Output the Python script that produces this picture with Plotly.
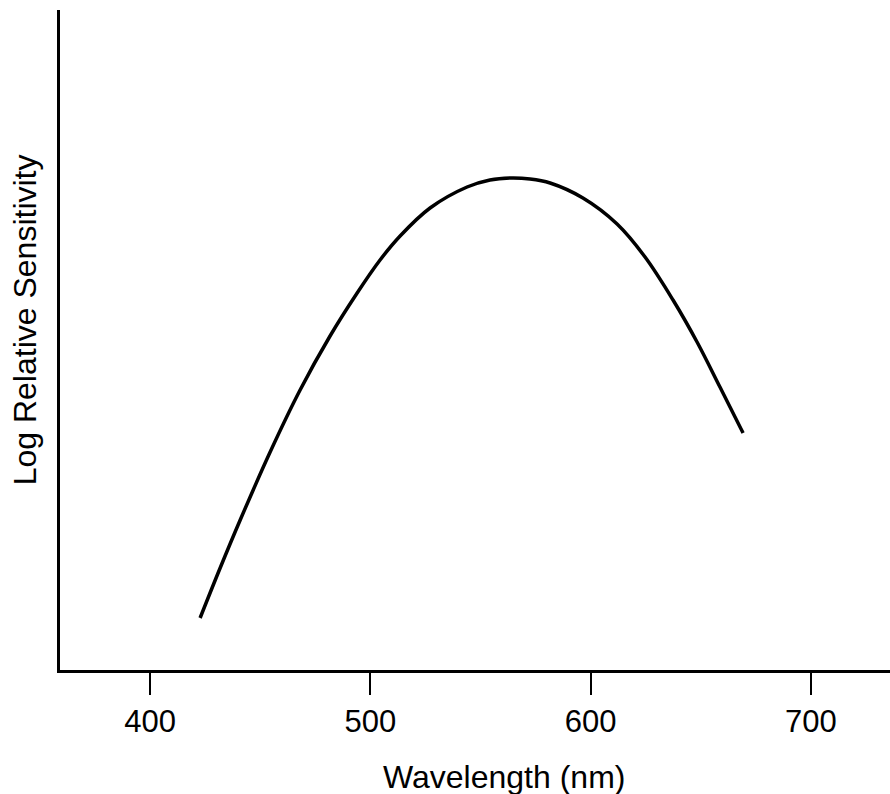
import plotly.graph_objects as go

# Spectral sensitivity curve (wavelength in nm, log relative sensitivity, peak = 0)
wavelength_nm = [422.7, 431.8, 440.9, 454.5, 468.1, 481.7, 494.0, 504.4, 513.5, 527.1, 543.9,
                 554.3, 563.4, 572.5, 581.6, 596.5, 612.0, 624.7, 637.4, 648.3, 658.7, 669.2]
log_sensitivity = [-4.40, -3.90, -3.42, -2.74, -2.12, -1.58, -1.15, -0.82, -0.58, -0.30, -0.09,
                   -0.02, 0.00, -0.01, -0.05, -0.20, -0.46, -0.79, -1.22, -1.64, -2.09, -2.55]

x_ticks = [400, 500, 600, 700]
x_tick_text = ["400", "500", "600", "700"]

FONT = "Liberation Sans, Arial, Helvetica, sans-serif"

fig = go.Figure()
fig.add_trace(go.Scatter(
    x=wavelength_nm,
    y=log_sensitivity,
    mode="lines",
    line=dict(color="black", width=3.5, shape="spline", smoothing=1.0),
    hoverinfo="skip",
    showlegend=False,
))

fig.update_layout(
    width=890,
    height=794,
    margin=dict(l=60, r=0, t=10, b=124),
    paper_bgcolor="white",
    plot_bgcolor="white",
    font=dict(family=FONT, color="black", size=31),
    xaxis=dict(
        range=[359.1, 735.9],
        showgrid=False,
        zeroline=False,
        showline=True,
        linecolor="black",
        linewidth=3,
        ticks="outside",
        ticklen=22,
        tickwidth=2,
        tickcolor="black",
        tickvals=x_ticks,
        ticktext=x_tick_text,
        tickfont=dict(family=FONT, size=31, color="black"),
    ),
    yaxis=dict(
        range=[-4.92, 1.68],
        showgrid=False,
        zeroline=False,
        showline=True,
        linecolor="black",
        linewidth=3,
        showticklabels=False,
        ticks="",
    ),
    annotations=[
        dict(
            text="Wavelength (nm)",
            xref="paper", yref="paper",
            x=0.5355, y=-0.162,
            xanchor="center", yanchor="middle",
            showarrow=False,
            font=dict(family=FONT, size=32, color="black"),
        ),
        dict(
            text="Log Relative Sensitivity",
            xref="paper", yref="paper",
            x=-0.042, y=0.530,
            xanchor="center", yanchor="middle",
            textangle=-90,
            showarrow=False,
            font=dict(family=FONT, size=32, color="black"),
        ),
    ],
)

fig.write_html("out.html")
